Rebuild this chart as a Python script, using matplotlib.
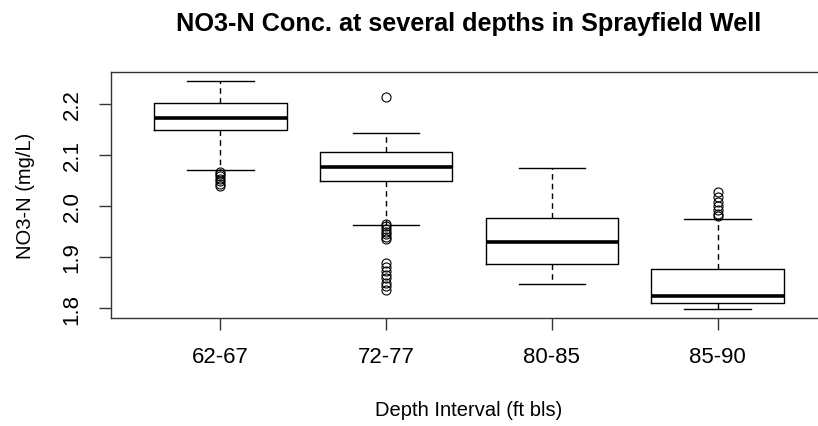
import matplotlib
matplotlib.use("Agg")
import matplotlib.pyplot as plt

plt.rcParams['font.family'] = ['Liberation Sans', 'DejaVu Sans']

depths = ["62-67", "72-77", "80-85", "85-90"]
whislo = [2.070, 1.963, 1.847, 1.798]
q1 = [2.148, 2.048, 1.887, 1.810]
med = [2.172, 2.076, 1.929, 1.824]
q3 = [2.201, 2.106, 1.976, 1.876]
whishi = [2.245, 2.143, 2.075, 1.975]
fliers = [
    [2.067, 2.062, 2.058, 2.053, 2.048, 2.043, 2.040],
    [2.214, 1.965, 1.960, 1.955, 1.950, 1.945, 1.940, 1.936,
     1.888, 1.880, 1.872, 1.865, 1.858, 1.850, 1.843, 1.836],
    [],
    [2.027, 2.018, 2.008, 2.000, 1.993, 1.985, 1.980],
]

stats = []
for i in range(len(depths)):
    stats.append(dict(label=depths[i], whislo=whislo[i], q1=q1[i], med=med[i],
                      q3=q3[i], whishi=whishi[i], fliers=fliers[i]))

fig = plt.figure(figsize=(8.18, 4.27), dpi=100)
ax = fig.add_axes([111 / 818, 1 - 319.3 / 427, (827 - 111) / 818, (319.3 - 72.7) / 427])

ax.bxp(stats, positions=[1, 2, 3, 4], widths=0.8, showfliers=True,
       boxprops=dict(color="black", linewidth=1.0),
       medianprops=dict(color="black", linewidth=2.6, solid_capstyle="butt"),
       whiskerprops=dict(color="black", linewidth=1.0, linestyle=(0, (4, 3))),
       capprops=dict(color="black", linewidth=1.0),
       capwidths=0.4,
       flierprops=dict(marker="o", markersize=6.5, markerfacecolor="none",
                       markeredgecolor="black", markeredgewidth=0.8))

ax.set_xlim(0.34, 4.66)
ax.set_ylim(1.780, 2.263)
ax.set_yticks([1.8, 1.9, 2.0, 2.1, 2.2])
ax.set_yticklabels(["1.8", "1.9", "2.0", "2.1", "2.2"], rotation=90, va="center")
ax.set_xticks([1, 2, 3, 4])
ax.set_xticklabels(depths)
ax.tick_params(axis="both", length=8.6, width=1.0, color="#333333", labelsize=16)
ax.tick_params(axis="x", pad=11)
ax.tick_params(axis="y", pad=12)
for s in ax.spines.values():
    s.set_color("#333333")
    s.set_linewidth(1.0)

ax.set_xlabel("Depth Interval (ft bls)", fontsize=14.5, va="center")
ax.xaxis.set_label_coords(0.5, -0.368)
ax.set_ylabel("NO3-N (mg/L)", fontsize=14.5, va="center")
ax.yaxis.set_label_coords(-0.120, 0.5)

fig.text(469 / 818, 1 - 24 / 427, "NO3-N Conc. at several depths in Sprayfield Well",
         ha="center", va="center", fontsize=18.2, fontweight="bold")

fig.savefig("out.png", dpi=100)
